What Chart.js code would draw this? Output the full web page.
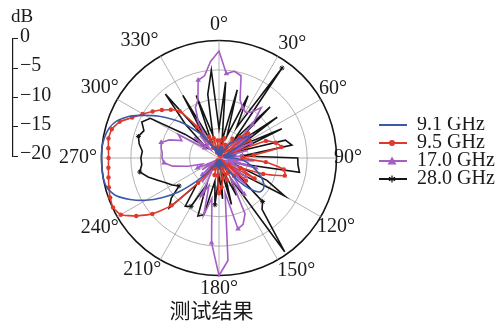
<!DOCTYPE html>
<html><head><meta charset="utf-8">
<script src="https://cdn.jsdelivr.net/npm/chart.js@4"></script>
<style>
html,body{margin:0;padding:0;background:#fff;width:502px;height:322px;overflow:hidden;}
#wrap{position:relative;width:502px;height:322px;}
#polar{position:absolute;left:0;top:0;}
#axis{position:absolute;left:0;top:0;}
#legend{position:absolute;left:370px;top:100px;}
#caption{position:absolute;left:0;width:423px;top:299px;text-align:center;font-family:"Noto Sans CJK SC";font-size:21px;line-height:21px;color:#1a1a1a;}
</style></head><body>
<div id="wrap">
<canvas id="polar" width="502" height="322"></canvas>
<canvas id="axis" width="73" height="170"></canvas>
<canvas id="legend" width="132" height="200"></canvas>
<div id="caption">测试结果</div>
</div>
<script>
// Angle categories (degrees, clockwise from top)
const angles = [0,5,10,15,20,25,30,35,40,45,50,55,60,65,70,75,80,85,90,95,100,105,110,115,120,125,130,135,140,145,150,155,160,165,170,175,180,185,190,195,200,205,210,215,220,225,230,235,240,245,250,255,260,265,270,275,280,285,290,295,300,305,310,315,320,325,330,335,340,345,350,355];

// Series values in dB (one per angle)
const ghz91 = [-19,-18,-19.5,-18,-19,-18.5,-19.5,-17.5,-16.5,-15.5,-14.5,-13.6,-16,-19,-17.5,-19,-17,-19,-17.5,-16,-15,-14,-13,-12,-11.2,-10.8,-11,-12.5,-15,-18,-19.5,-18.5,-19.5,-18.5,-19.5,-19,-18,-19.5,-18.5,-19.5,-18.5,-19.5,-18.5,-18,-16.5,-14,-11,-8.3,-5.6,-3.3,-1.3,-0.3,0,0,0,0,-0.2,-0.6,-1.5,-3.2,-5.5,-7.6,-9.8,-11.8,-14,-15.5,-17.5,-19,-18,-19.5,-18,-19.5];
const ghz95 = [-19,-17,-19.5,-16.5,-19,-17.5,-19.5,-16,-18.5,-15,-13.5,-18,-14,-19,-11.5,-10,-9.2,-14,-16,-12,-8.8,-8.4,-12,-16,-13,-18,-14,-19,-16,-19.5,-17,-19,-16,-19,-16.5,-15,-14,-17,-19.5,-17,-19,-18,-19.5,-18,-14.5,-8.6,-5.2,-2.8,-0.7,-0.1,-0.3,-0.6,-0.9,-1.1,-1.2,-1.1,-0.9,-1.1,-2,-3.7,-5,-6.2,-7.3,-8.4,-9.6,-13.5,-18,-16,-19,-16.5,-19,-17];
const ghz170 = [-1.8,-5.6,-5,-5.5,-9.5,-10.5,-11,-10.5,-8.8,-12,-17,-13,-18,-14,-19,-15,-19,-16,-19,-14,-18,-13.5,-18.5,-15,-19,-14.5,-18,-13.5,-17,-12.5,-16,-9.5,-8,-7.5,-14,-2.5,0,-5.5,-13,-10,-15,-13,-18,-15,-19,-16,-19,-16.5,-18.5,-16,-17,-14.6,-12,-10.6,-10.3,-10.3,-10,-9.8,-11,-13,-12,-17,-14.5,-18,-15,-17,-13,-10.5,-9.5,-6.3,-5.8,-3.5];
const ghz280 = [-15,-7,-17,-8,-16,-8.3,-14,-1.3,-16,-7.7,-17,-7.9,-16,-8.2,-17,-8.3,-7.4,-16,-6.6,-6.5,-6.1,-16,-18,-11,-7.1,-15,-17,-9.5,-8.6,-0.5,-16,-13,-17,-11.8,-18,-13,-17,-12,-16,-10,-9.5,-15,-10.5,-10,-14,-8,-9.4,-11.7,-10.8,-10,-8.9,-7.5,-6.3,-6.8,-6.7,-6.9,-6.2,-5.8,-6.4,-5.5,-6.5,-13,-17,-12,-5.8,-16,-7.7,-17,-8.7,-16,-9,-5];

const seriesNames = ['9.1 GHz','9.5 GHz','17.0 GHz','28.0 GHz'];
const dbTicks = [0,-5,-10,-15,-20];

const COL_BLUE = '#3b5aa8', COL_RED = '#e0392b', COL_PURPLE = '#a45ec4', COL_BLACK = '#141414';
const SERIF = "'Liberation Serif', 'Times New Roman', serif";
const seriesColors = [COL_BLUE, COL_RED, COL_PURPLE, COL_BLACK];
// per-label radial padding for the 0°,30°,...,330° labels (layout only)
const labelPad = [3.5, 1, -2, -2.5, -4.3, -1, 1, -2, -1.6, 4.5, -1.6, 3.6];

function makeIcon(color, marker) {
  const c = document.createElement('canvas');
  c.width = 30; c.height = 12;
  const g = c.getContext('2d');
  g.strokeStyle = color; g.lineWidth = 2;
  g.beginPath(); g.moveTo(0, 6); g.lineTo(30, 6); g.stroke();
  g.fillStyle = color;
  if (marker === 'circle') { g.beginPath(); g.arc(15, 6, 3, 0, Math.PI * 2); g.fill(); }
  else if (marker === 'triangle') { g.beginPath(); g.moveTo(15, 1.5); g.lineTo(19.5, 9.5); g.lineTo(10.5, 9.5); g.closePath(); g.fill(); }
  else if (marker === 'star') {
    g.lineWidth = 1.2; g.beginPath();
    for (let k = 0; k < 3; k++) { const a = k * Math.PI / 3 + Math.PI / 2; g.moveTo(15 - 3.5 * Math.cos(a), 6 - 3.5 * Math.sin(a)); g.lineTo(15 + 3.5 * Math.cos(a), 6 + 3.5 * Math.sin(a)); }
    g.stroke();
  }
  return c;
}
const legendIcons = [makeIcon(COL_BLUE, 'none'), makeIcon(COL_RED, 'circle'), makeIcon(COL_PURPLE, 'triangle'), makeIcon(COL_BLACK, 'star')];

new Chart(document.getElementById('polar'), {
  type: 'radar',
  data: {
    labels: angles,
    datasets: [
      { label: seriesNames[0], data: ghz91, borderColor: COL_BLUE, backgroundColor: COL_BLUE, borderWidth: 1.6, pointRadius: 0, tension: 0.2, fill: false },
      { label: seriesNames[1], data: ghz95, borderColor: COL_RED, backgroundColor: COL_RED, pointBackgroundColor: COL_RED, pointBorderColor: COL_RED, borderWidth: 1.6, pointRadius: 2.2, pointBorderWidth: 0, pointStyle: 'circle', tension: 0.15, fill: false },
      { label: seriesNames[2], data: ghz170, borderColor: COL_PURPLE, backgroundColor: COL_PURPLE, pointBackgroundColor: COL_PURPLE, pointBorderColor: COL_PURPLE, borderWidth: 1.6, pointStyle: 'triangle', pointBorderWidth: 0, pointRadius: c => (c.dataIndex % 4 === 1 ? 3.2 : 0), fill: false },
      { label: seriesNames[3], data: ghz280, borderColor: COL_BLACK, backgroundColor: COL_BLACK, pointBorderColor: COL_BLACK, borderWidth: 1.6, pointStyle: 'star', pointBorderWidth: 1, pointRadius: c => (c.dataIndex % 5 === 2 ? 2.5 : 0), fill: false }
    ]
  },
  options: {
    responsive: false, animation: false, devicePixelRatio: 1,
    layout: { padding: { left: 38.5, top: 12, bottom: 20, right: 113.5 } },
    scales: {
      r: {
        min: -20, max: 0, startAngle: 0,
        ticks: { display: false, stepSize: 5 },
        grid: { circular: true, color: c => (c.tick && c.tick.value === 0 ? '#141414' : '#a0a0a0'), lineWidth: c => (c.tick && c.tick.value === 0 ? 1.6 : 0.8) },
        angleLines: { color: c => (c.index % 6 === 0 ? '#a0a0a0' : 'rgba(0,0,0,0)'), lineWidth: c => (c.index % 6 === 0 ? 0.8 : 0) },
        pointLabels: {
          padding: c => (c.index % 6 === 0 ? labelPad[c.index / 6] : 0),
          color: '#1a1a1a', font: { family: SERIF, size: 20 },
          callback: (l, i) => (i % 6 === 0 ? l + '°' : '')
        }
      }
    },
    plugins: { tooltip: { enabled: false }, legend: { display: false } }
  }
});

// Legend-only chart (same series names and colours, no data)
new Chart(document.getElementById('legend'), {
  type: 'line',
  data: { labels: [], datasets: seriesNames.map((n, i) => ({ label: n, data: [], borderColor: seriesColors[i], backgroundColor: seriesColors[i] })) },
  options: {
    responsive: false, animation: false, devicePixelRatio: 1,
    layout: { padding: { left: 9, top: 17, right: 0, bottom: 0 } },
    scales: { x: { display: false }, y: { display: false } },
    plugins: {
      tooltip: { enabled: false },
      legend: {
        position: 'top', align: 'start',
        labels: {
          usePointStyle: true, pointStyleWidth: 30, boxHeight: 12, padding: -2, color: '#1a1a1a',
          font: { family: SERIF, size: 20 },
          generateLabels: chart => Chart.defaults.plugins.legend.labels.generateLabels(chart).map((it, i) => Object.assign({}, it, { pointStyle: legendIcons[i] }))
        }
      }
    }
  }
});

new Chart(document.getElementById('axis'), {
  type: 'line',
  data: { labels: [], datasets: [] },
  options: {
    responsive: false, animation: false, devicePixelRatio: 1,
    layout: { padding: { left: 11, top: 6, right: 0, bottom: 12 } },
    plugins: {
      legend: { display: false }, tooltip: { enabled: false },
      title: { display: true, text: 'dB', align: 'start', color: '#1a1a1a', font: { family: SERIF, size: 19, weight: 'normal' }, padding: { top: 0, bottom: 10 } }
    },
    scales: {
      x: { display: false },
      y: {
        position: 'right', min: dbTicks[dbTicks.length - 1], max: dbTicks[0],
        afterFit: s => { s.width = 60; },
        afterBuildTicks: s => { s.ticks = dbTicks.map(v => ({ value: v })); },
        ticks: { padding: 2, labelOffset: -2, color: '#1a1a1a', font: { family: SERIF, size: 20 }, callback: v => (v < 0 ? '\u2212' + Math.abs(v) : String(v)) },
        grid: { drawOnChartArea: false, drawTicks: true, tickLength: 5, color: '#1a1a1a', lineWidth: 1 },
        border: { display: true, color: '#1a1a1a', width: 1.2 }
      }
    }
  }
});
</script>
</body></html>
